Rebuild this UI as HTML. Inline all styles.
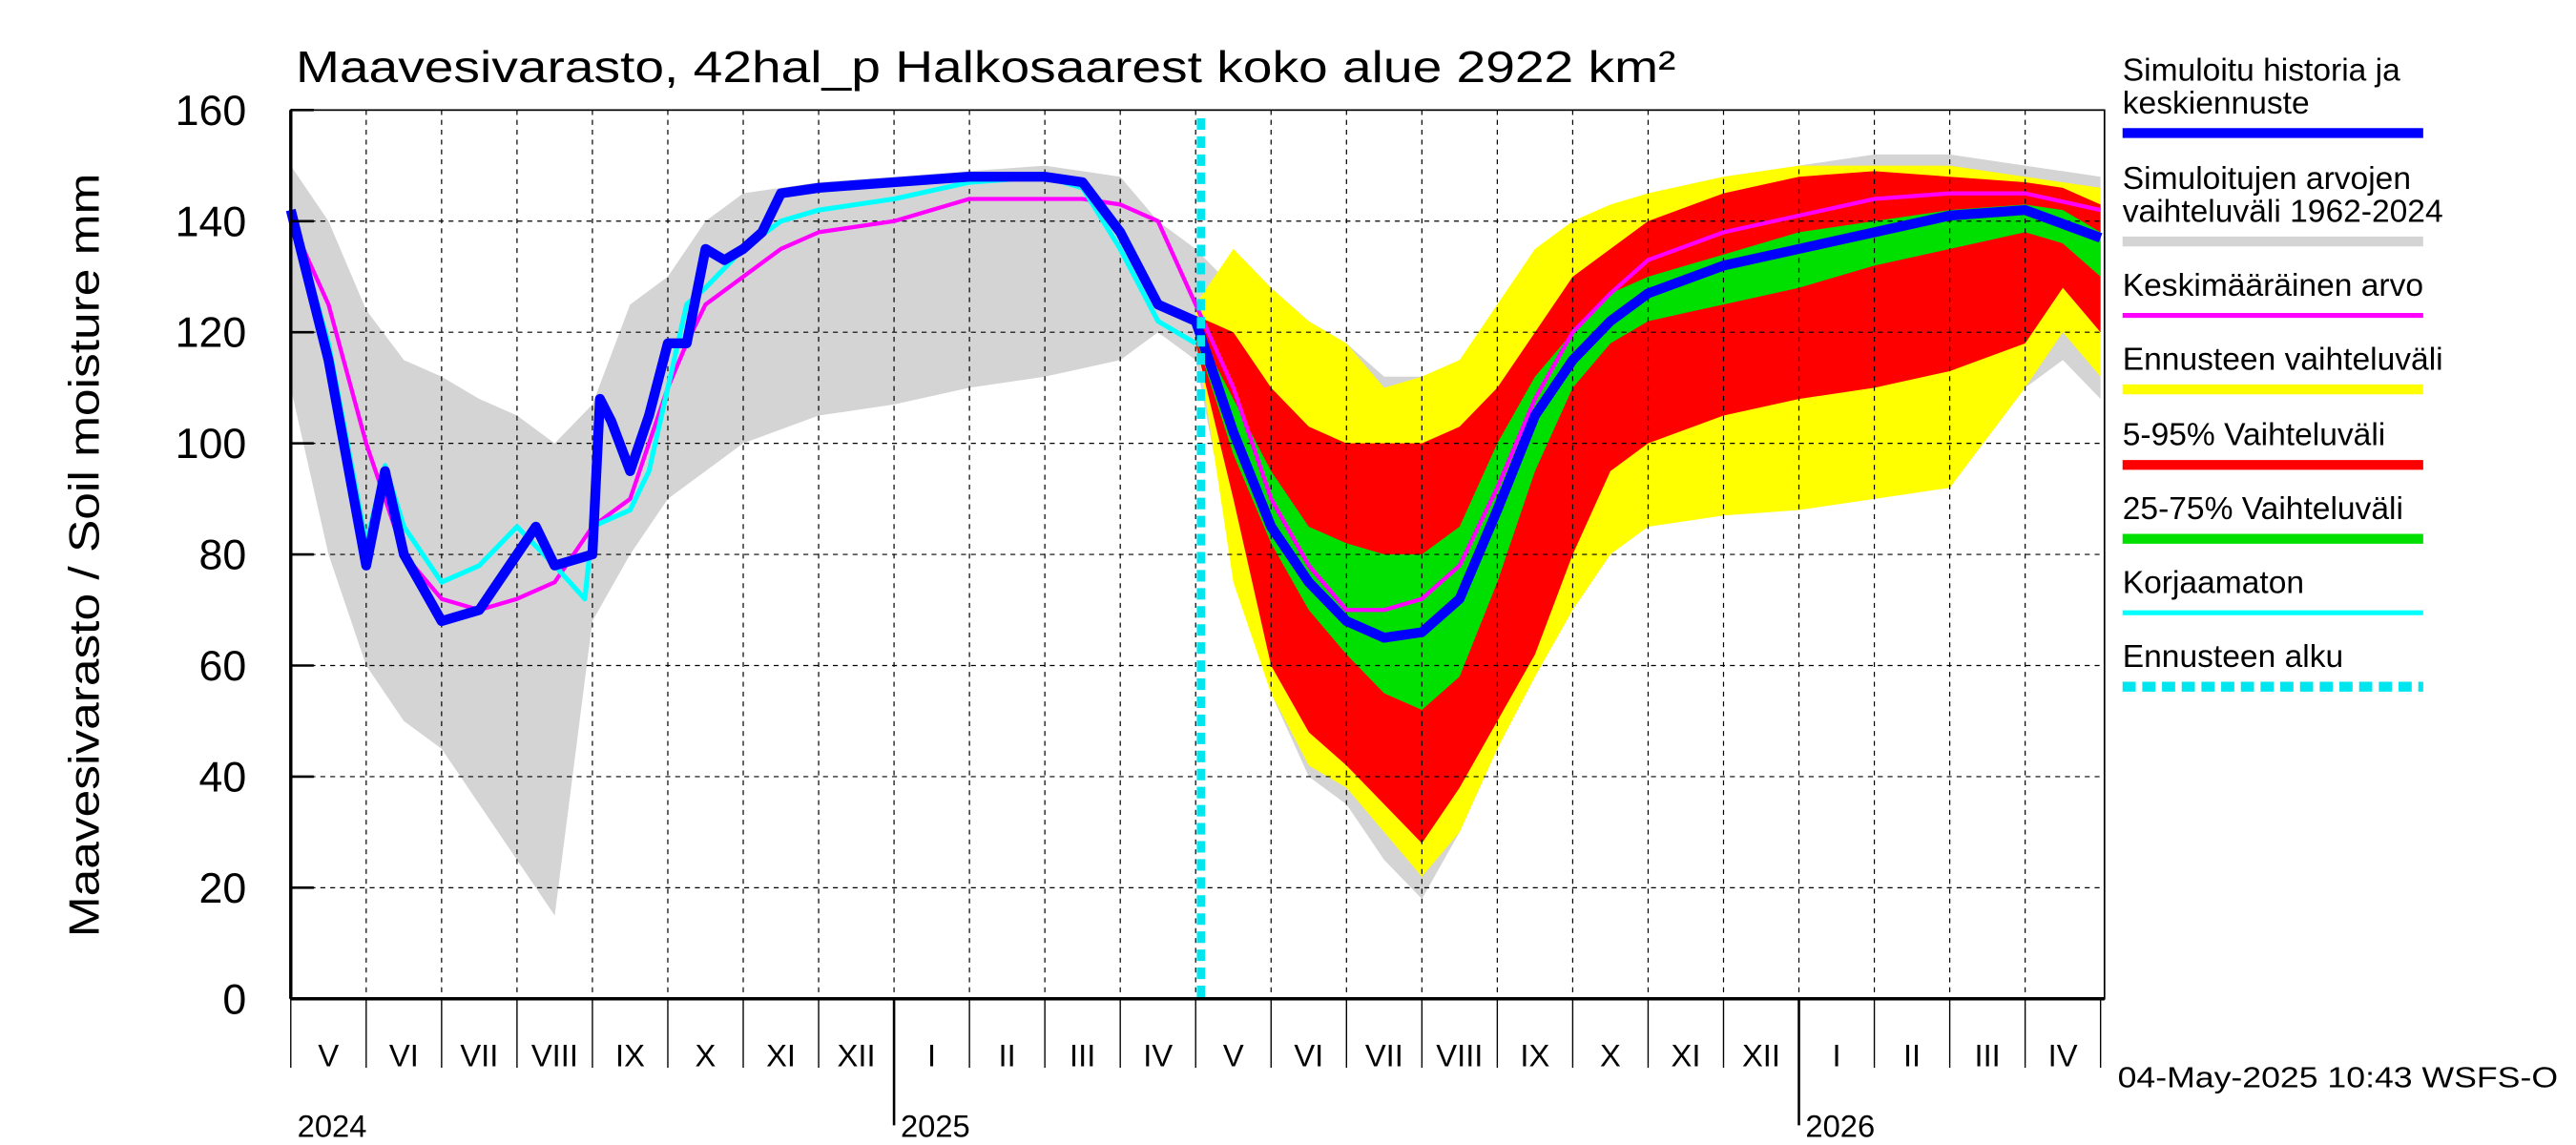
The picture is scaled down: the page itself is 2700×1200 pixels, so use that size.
<!DOCTYPE html>
<html><head><meta charset="utf-8"><style>
html,body{margin:0;padding:0;background:#fff}
svg{display:block;font-family:"Liberation Sans",sans-serif}
</style></head><body>
<svg id="chart" width="2700" height="1200" viewBox="0 0 1568 697" preserveAspectRatio="none" xmlns="http://www.w3.org/2000/svg">
<g id="bands"></g><g id="grid"></g><g id="lines"></g><g id="axes"></g>
<text x="180" y="50" font-size="27" textLength="840" lengthAdjust="spacingAndGlyphs">Maavesivarasto, 42hal_p Halkosaarest koko alue 2922 km²</text>
<text transform="translate(60,338) rotate(-90)" text-anchor="middle" font-size="26" textLength="465" lengthAdjust="spacingAndGlyphs">Maavesivarasto / Soil moisture   mm</text>
<text x="1289" y="662" font-size="18" textLength="268" lengthAdjust="spacingAndGlyphs">04-May-2025 10:43 WSFS-O</text>
<g id="legend"></g>
</svg>
<script>
// months since 2024-05-01
const histMonths=[0,0.5,1,1.5,2,2.5,3,3.5,4,4.5,5,5.5,6,7,8,9,10,11,11.5,12,12.5,13,13.5,14,14.5,15,15.5,16,16.5,17,17.5,18,19,20,21,22,23,23.5,24];
const grayMax=[150,140,124,115,112,108,105,100,107,125,130,140,145,147,148,149,150,148,140,135,128,125,120,118,112,112,115,120,130,138,142,145,148,150,152,152,150,149,148];
const grayMin=[110,80,60,50,45,35,25,15,68,80,90,95,100,105,107,110,112,115,120,115,80,55,40,35,25,18,30,45,60,80,90,88,88,90,92,94,110,115,108];
const fcMonths=[12,12.5,13,13.5,14,14.5,15,15.5,16,16.5,17,17.5,18,19,20,21,22,23,23.5,24];
const yellowMax=[125,135,128,122,118,110,112,115,125,135,140,143,145,148,150,150,150,148,147,146];
const yellowMin=[120,75,55,42,38,30,22,30,45,58,70,80,85,87,88,90,92,110,120,112];
const redMax=[123,120,110,103,100,100,100,103,110,120,130,135,140,145,148,149,148,147,146,143];
const redMin=[118,90,60,48,42,35,28,38,50,62,80,95,100,105,108,110,113,118,128,120];
const greenMax=[121,108,95,85,82,80,80,85,100,112,120,127,130,134,138,140,142,143,142,138];
const greenMin=[119,98,82,70,62,55,52,58,75,95,110,118,122,125,128,132,135,138,136,130];
const blueMonths=[0,0.5,1,1.25,1.5,2,2.5,3,3.25,3.5,4,4.1,4.25,4.5,4.75,5,5.25,5.5,5.75,6,6.25,6.5,7,8,9,10,10.5,11,11.5,12,12.5,13,13.5,14,14.5,15,15.5,16,16.5,17,17.5,18,19,20,21,22,23,24];
const blueVals=[142,115,78,95,80,68,70,80,85,78,80,108,104,95,105,118,118,135,133,135,138,145,146,147,148,148,147,138,125,122,102,85,75,68,65,66,72,88,105,115,122,127,132,135,138,141,142,137];
const cyanMonths=[0,0.5,1,1.25,1.5,2,2.5,3,3.5,3.9,4,4.5,4.75,5,5.25,5.5,6,6.5,7,8,9,10,10.5,11,11.5,12];
const cyanVals=[142,118,82,96,85,75,78,85,78,72,85,88,95,110,125,128,135,140,142,144,147,148,146,135,122,118];
const magMonths=[0,0.5,1,1.5,2,2.5,3,3.5,4,4.5,5,5.25,5.5,6,6.5,7,8,9,10,10.5,11,11.5,12,12.5,13,13.5,14,14.5,15,15.5,16,16.5,17,17.5,18,19,20,21,22,23,24];
const magVals=[140,125,100,80,72,70,72,75,85,90,110,118,125,130,135,138,140,144,144,144,143,140,125,110,90,78,70,70,72,78,92,108,120,127,133,138,141,144,145,145,142];
const yTicks=[0,20,40,60,80,100,120,140,160];
const monthLabels=["V","VI","VII","VIII","IX","X","XI","XII","I","II","III","IV","V","VI","VII","VIII","IX","X","XI","XII","I","II","III","IV"];
const yearLabels=[["2024",0],["2025",8],["2026",20]];
const forecastStart=12.07;

const L=177,R=1281,T=67,B=608;
const X=m=>L+m*45.9, Y=v=>B-v*(B-T)/160;
const NS="http://www.w3.org/2000/svg";
function mk(tag,parent,attrs){const e=document.createElementNS(NS,tag);for(const k in attrs)e.setAttribute(k,attrs[k]);document.getElementById(parent).appendChild(e);return e;}
function area(xs,hi,lo,color,name){
  let d="M"+xs.map((m,i)=>X(m)+","+Y(hi[i])).join("L");
  d+="L"+xs.map((m,i)=>[X(m),Y(lo[i])]).reverse().map(p=>p.join(",")).join("L")+"Z";
  const e=mk("path","bands",{d:d,fill:color});
  
  
}
function line(xs,vs,color,w,name){
  const e=mk("polyline","lines",{points:xs.map((m,i)=>X(m)+","+Y(vs[i])).join(" "),fill:"none",stroke:color,"stroke-width":w,"stroke-linejoin":"round"});
  
  
}
area(histMonths,grayMax,grayMin,"#d4d4d4","historical-range-band");
area(fcMonths,yellowMax,yellowMin,"#ffff00","forecast-range-band");
area(fcMonths,redMax,redMin,"#ff0000","band-5-95");
area(fcMonths,greenMax,greenMin,"#00e000","band-25-75");
yTicks.forEach(v=>{
  if(v>0){const g=mk("line","grid",{x1:L,x2:R,y1:Y(v),y2:Y(v),stroke:"#000","stroke-width":0.7,"stroke-dasharray":"3,3"});
  
  }
  const t=mk("text","axes",{x:L-27,y:Y(v)+9,"text-anchor":"end","font-size":"26"});t.textContent=v;
  
  
  const tk=mk("line","axes",{x1:L,x2:L+14,y1:Y(v),y2:Y(v),stroke:"#000","stroke-width":1.5});
  
  
});
for(let i=0;i<=24;i++){
  const x=X(i);
  if(i>0&&i<24){const g=mk("line","grid",{x1:x,x2:x,y1:T,y2:B,stroke:"#000","stroke-width":0.7,"stroke-dasharray":"3,3"});
  
  }
  const yr=(i===8||i===20);
  const tk=mk("line","axes",{x1:x,x2:x,y1:B,y2:yr?685:650,stroke:"#000","stroke-width":yr?1.5:0.8});
  
  
  if(i<24){const t=mk("text","axes",{x:X(i+0.5),y:649,"text-anchor":"middle","font-size":"19"});t.textContent=monthLabels[i];
  
  }
}
yearLabels.forEach(([s,m])=>{const t=mk("text","axes",{x:X(m)+4,y:692,"font-size":"19"});t.textContent=s;
  
  });
line(magMonths,magVals,"#ff00ff",2.5,"mean-line");
line(cyanMonths,cyanVals,"#00ffff",3,"uncorrected-line");
line(blueMonths,blueVals,"#0000ff",6,"simulated-median-line");
const fs=mk("line","lines",{x1:X(forecastStart),x2:X(forecastStart),y1:T+5,y2:B,stroke:"#00e5ee","stroke-width":5,"stroke-dasharray":"7,4"});


const fr=mk("rect","axes",{x:L,y:T,width:R-L,height:B-T,fill:"none",stroke:"#000","stroke-width":1});


const ax=mk("line","axes",{x1:L,x2:R,y1:B,y2:B,stroke:"#000","stroke-width":2});


const ay=mk("line","axes",{x1:L,x2:L,y1:T,y2:B,stroke:"#000","stroke-width":2});


const leg=[[["Simuloitu historia ja","keskiennuste"],"#0000ff",81,false,"legend-simulated"],
[["Simuloitujen arvojen","vaihteluväli 1962-2024"],"#d4d4d4",147,false,"legend-historical-range"],
[["Keskimääräinen arvo"],"#ff00ff",192,false,"legend-mean"],
[["Ennusteen vaihteluväli"],"#ffff00",237,false,"legend-forecast-range"],
[["5-95% Vaihteluväli"],"#ff0000",283,false,"legend-5-95"],
[["25-75% Vaihteluväli"],"#00e000",328,false,"legend-25-75"],
[["Korjaamaton"],"#00ffff",373,false,"legend-uncorrected"],
[["Ennusteen alku"],"#00e5ee",418,true,"legend-forecast-start"]];
leg.forEach(([txt,c,y,dash,name])=>{
  txt.forEach((s,j)=>{const t=mk("text","legend",{x:1292,y:y-12-20*(txt.length-1-j),"font-size":"19.5"});t.textContent=s;
  
  });
  const a={x1:1292,x2:1475,y1:y,y2:y,stroke:c,"stroke-width":(c==="#ff00ff"||c==="#00ffff")?3:6};
  if(dash)a["stroke-dasharray"]="8,4";
  const l=mk("line","legend",a);
  
  
});
</script>
</body></html>
